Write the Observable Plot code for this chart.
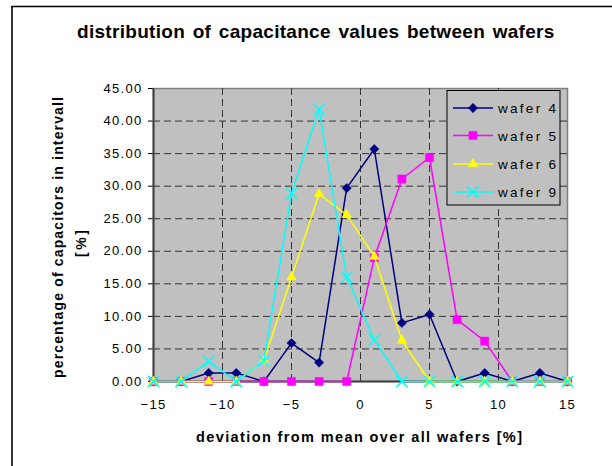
<!DOCTYPE html>
<html><head><meta charset="utf-8">
<script src="https://cdn.jsdelivr.net/npm/d3@7"></script>
<script src="https://cdn.jsdelivr.net/npm/@observablehq/plot@0.6"></script>
<style>
html,body{margin:0;padding:0;background:#fff;overflow:hidden;}
#chart{position:relative;width:612px;height:466px;}
</style></head><body><div id="chart"></div>
<script>
// ---- data ----
const xValues = [-15,-13,-11,-9,-7,-5,-3,-1,1,3,5,7,9,11,13,15];
const wafer4 = [0,0,1.3,1.3,0,5.9,2.9,29.7,35.7,9.0,10.3,0,1.3,0,1.3,0];
const wafer5 = [0,0,0,0,0,0,0,0,19.0,31.1,34.4,9.5,6.2,0,0,0];
const wafer6 = [0,0,0,0,3.2,16.0,28.8,25.6,19.2,6.3,0,0,0,0,0,0];
const wafer9 = [0,0,3.1,0,3.2,28.9,41.8,16.0,6.4,0,0,0,0,0,0,0];
const seriesNames = ["wafer 4","wafer 5","wafer 6","wafer 9"];
const xTicks = [-15,-10,-5,0,5,10,15];
const yTicks = [0,5,10,15,20,25,30,35,40,45];
const titleText = "distribution of capacitance values between wafers";
const xTitle = "deviation from mean over all wafers [%]";
const yTitle1 = "percentage of capacitors in intervall";
const yTitle2 = "[%]";

// ---- styles ----
const seriesValues = [wafer4, wafer5, wafer6, wafer9];
const seriesStyle = [
  {color:"#000080", symbol:"diamond2", d3sym:d3.symbolDiamond2, r:4.2, filled:true},
  {color:"#ff00ff", symbol:"square", d3sym:d3.symbolSquare, r:4.6, filled:true},
  {color:"#ffff00", symbol:"triangle", d3sym:d3.symbolTriangle, r:3.6, filled:true},
  {color:"#00ffff", symbol:"times", d3sym:d3.symbolTimes, r:5.2, filled:false}
];
const data = seriesNames.flatMap((name,i)=> xValues.map((x,j)=>({series:name, x, y: seriesValues[i][j]})));

const marks = [
  Plot.frame({fill:"#c0c0c0", stroke:"#808080", strokeWidth:1.5}),
  Plot.ruleY(yTicks.filter(d=>d>0 && d<45), {stroke:"#333", strokeDasharray:"7,4", strokeWidth:1}),
  Plot.ruleX(xTicks.filter(d=>d>-15 && d<15), {stroke:"#333", strokeDasharray:"7,4", strokeWidth:1}),
  Plot.ruleX([-15], {stroke:"#404040", strokeWidth:2}),
  Plot.ruleY([0], {stroke:"#404040", strokeWidth:2})
];
seriesNames.forEach((name,i)=>{
  const s = seriesStyle[i];
  const sub = data.filter(d=>d.series===name);
  marks.push(Plot.line(sub, {x:"x", y:"y", stroke:s.color, strokeWidth:1.5}));
  marks.push(Plot.dot(sub, s.filled
    ? {x:"x", y:"y", symbol:s.symbol, r:s.r, fill:s.color, stroke:s.color, strokeWidth:0.5}
    : {x:"x", y:"y", symbol:s.symbol, r:s.r, fill:"none", stroke:s.color, strokeWidth:1.5}));
});

const chart = Plot.plot({
  width:612, height:466,
  marginLeft:153, marginRight:45, marginTop:88, marginBottom:85,
  style:{fontFamily:"'Liberation Sans', Arial, sans-serif", fontSize:"13px", color:"#000", background:"transparent", overflow:"visible"},
  x:{domain:[-15,15], ticks:xTicks, tickSize:0, tickPadding:18, label:null},
  y:{domain:[0,45], ticks:yTicks, tickSize:5, tickPadding:6, tickFormat:d3.format(".2f"), label:null},
  marks
});
document.getElementById("chart").appendChild(chart);

const svg = d3.select(chart);
svg.style("letter-spacing","1.3px");
const font = "'Liberation Sans', Arial, sans-serif";

// outer chart border
svg.append("line").attr("x1",12).attr("y1",6).attr("x2",12).attr("y2",466).attr("stroke","#333").attr("stroke-width",2);
svg.append("line").attr("x1",11).attr("y1",6.5).attr("x2",612).attr("y2",6.5).attr("stroke","#000").attr("stroke-width",1.5);

function addText(str, opts){
  const t = svg.append("text").text(str)
    .attr("text-anchor","start")
    .attr("font-family",font).attr("font-weight",opts.bold?"bold":"normal").attr("font-size",opts.size)
    .attr("fill","#000").style("letter-spacing",(opts.ls||0)+"px");
  if (opts.ws) t.style("word-spacing",opts.ws+"px");
  if (opts.len) t.attr("textLength",opts.len).attr("lengthAdjust","spacing");
  if (opts.transform) t.attr("transform",opts.transform); else t.attr("x",opts.x).attr("y",opts.y);
  return t;
}
// titles
addText(titleText, {bold:true, size:19, x:77, y:38, ls:0.3, ws:2});
addText(xTitle, {bold:true, size:14.5, x:196, y:441.5, len:326});
addText(yTitle1, {bold:true, size:14, transform:"translate(63,378) rotate(-90)", len:281});
addText(yTitle2, {bold:true, size:14, transform:"translate(86,257) rotate(-90)", len:27});

// legend
const lg = svg.append("g");
lg.append("rect").attr("x",447).attr("y",90.5).attr("width",113).attr("height",114.5)
  .attr("fill","#c0c0c0").attr("stroke","#000").attr("stroke-width",1);
const rowY = [108,135.5,164,192];
seriesNames.forEach((name,i)=>{
  const s = seriesStyle[i], y = rowY[i];
  lg.append("line").attr("x1",453).attr("x2",493).attr("y1",y).attr("y2",y).attr("stroke",s.color).attr("stroke-width",1.5);
  const size = Math.PI*s.r*s.r;
  lg.append("path").attr("d", d3.symbol(s.d3sym, size)()).attr("transform",`translate(473,${y})`)
    .attr("fill", s.filled ? s.color : "none").attr("stroke", s.color).attr("stroke-width", s.filled?0.5:1.5);
  addText(name, {size:13.5, x:498, y:y+5, len:58});
});
</script></body></html>
